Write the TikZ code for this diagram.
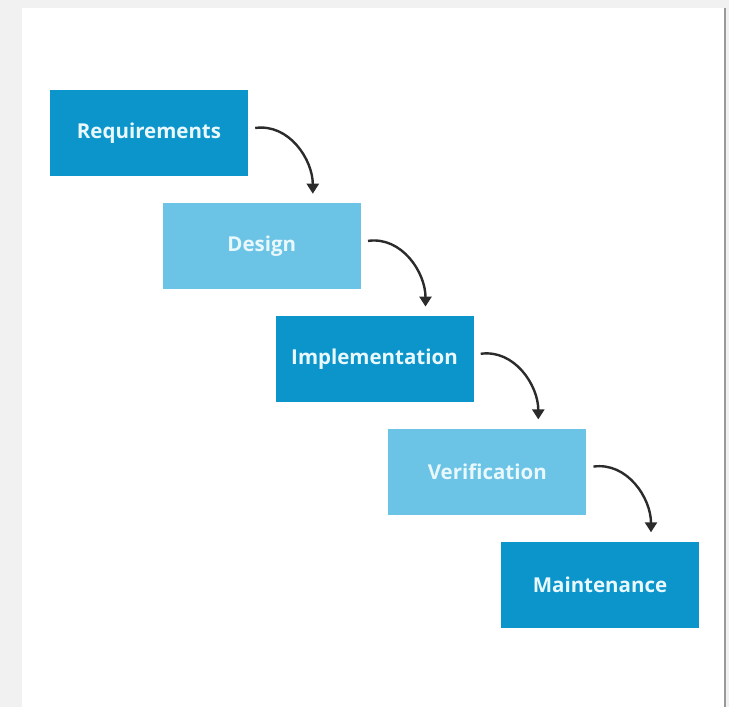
\documentclass[tikz,border=0pt]{standalone}
\usepackage{fontspec}
\setmainfont{Open Sans}
\usetikzlibrary{arrows.meta,calc}
\definecolor{darkstep}{HTML}{0B95CB}
\definecolor{lightstep}{HTML}{6BC3E5}
\definecolor{steptext}{HTML}{E8F8FD}
\definecolor{arrowcol}{HTML}{2B2B2B}
\definecolor{outerbg}{HTML}{F1F1F1}
\tikzset{
  phase/.style={minimum width=198pt,minimum height=86pt,inner sep=0pt,text=steptext,font=\fontsize{20.5}{24}\selectfont\bfseries},
  darkphase/.style={phase,fill=darkstep},
  lightphase/.style={phase,fill=lightstep},
  flowarrow/.style={draw=arrowcol,line width=2.4pt,-{Triangle[width=12pt,length=10pt]}}
}
\begin{document}
\begin{tikzpicture}[x=1pt,y=-1pt]
\useasboundingbox (0,0) rectangle (729,707);
\fill[outerbg] (0,0) rectangle (729,707);
\fill[white] (22,8) rectangle (724,707);
\fill[black!40] (724,8) rectangle (726,707);
\node[darkphase]  (req) at (149,133)   {Requirements};
\node[lightphase] (des) at (261.8,245.9) {Design};
\node[darkphase]  (imp) at (374.5,358.8) {Implementation};
\node[lightphase] (ver) at (487.3,471.6) {Verification};
\node[darkphase]  (mai) at (600,584.5) {Maintenance};
\foreach \a/\b/\i in {req/des/1,des/imp/2,imp/ver/3,ver/mai/4}{
  \coordinate (s\i) at ($(\a.east)+(7,-5)$);
  \coordinate (e\i) at ($(\b.north)+(51,-9)$);
  \draw[flowarrow] (s\i) to[out=8,in=90] (e\i);
}
\end{tikzpicture}
\end{document}
